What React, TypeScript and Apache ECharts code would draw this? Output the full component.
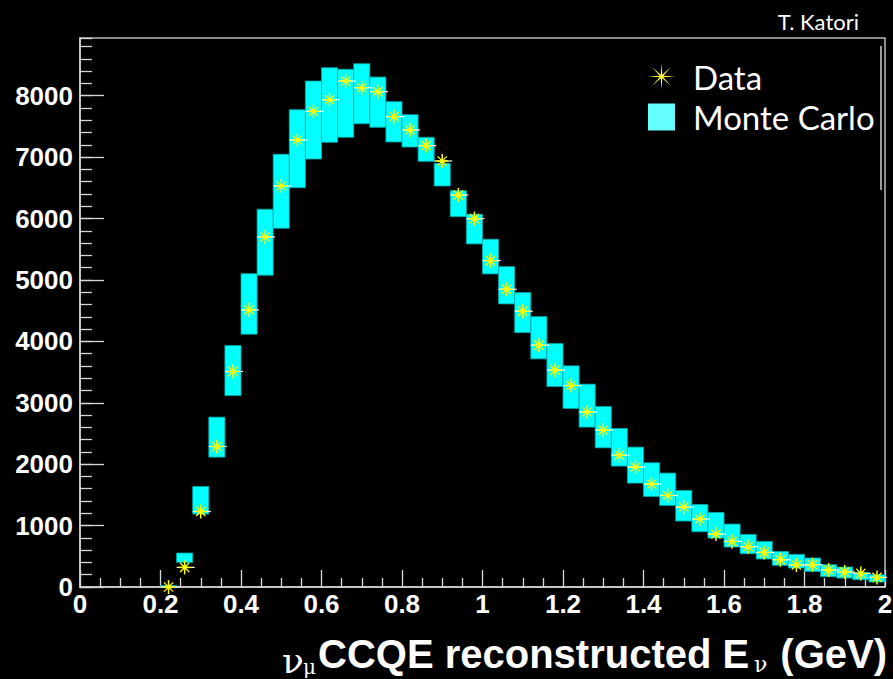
import React, { useEffect, useRef } from "react";
import * as echarts from "echarts";

// Bin centres (GeV), bin width 0.04 GeV
const binCenters = [
  0.22, 0.26, 0.3, 0.34, 0.38, 0.42, 0.46, 0.5, 0.54, 0.58, 0.62, 0.66, 0.7, 0.74, 0.78,
  0.82, 0.86, 0.9, 0.94, 0.98, 1.02, 1.06, 1.1, 1.14, 1.18, 1.22, 1.26, 1.3, 1.34, 1.38,
  1.42, 1.46, 1.5, 1.54, 1.58, 1.62, 1.66, 1.7, 1.74, 1.78, 1.82, 1.86, 1.9, 1.94, 1.98,
];
const binWidth = 0.04;

// Data (stars)
const dataCounts = [
  0, 319, 1230, 2288, 3509, 4513, 5700, 6530, 7279, 7746, 7935, 8239, 8130, 8066, 7659,
  7442, 7187, 6937, 6384, 5998, 5315, 4849, 4491, 3938, 3531, 3281, 2850, 2555, 2148, 1953,
  1676, 1491, 1302, 1107, 862, 742, 656, 563, 444, 358, 363, 277, 244, 221, 156,
];

// Monte Carlo band: lower and upper edges
const mcLow = [
  0, 400, 1188, 2115, 3118, 4117, 5077, 5842, 6503, 6970, 7241, 7323, 7544, 7486, 7247,
  7165, 6932, 6530, 6031, 5587, 5098, 4610, 4143, 3715, 3264, 2907, 2604, 2267, 1969, 1692,
  1474, 1328, 1074, 900, 797, 651, 542, 456, 352, 309, 254, 168, 146, 119, 81,
];
const mcHigh = [
  25, 553, 1637, 2766, 3932, 5103, 6151, 7046, 7772, 8239, 8456, 8430, 8521, 8304, 7903,
  7691, 7323, 6900, 6454, 6070, 5663, 5217, 4794, 4403, 3964, 3601, 3303, 2939, 2581, 2278,
  2023, 1855, 1572, 1344, 1214, 1025, 856, 742, 579, 531, 472, 363, 325, 238, 200,
];

const xMin = 0;
const xMax = 2;
const xInterval = 0.2;
const yMin = 0;
const yMax = 8940;
const yInterval = 1000;
const yMinorInterval = 200;

const seriesNames = ["Data", "Monte Carlo"];
const author = "T. Katori";

const AXIS_COLOR = "#d8d8d8";
const LABEL_FONT = "Liberation Sans";

function starIconPath(): string {
  const pts: string[] = [];
  for (let k = 0; k < 16; k++) {
    const a = (k * Math.PI) / 8 - Math.PI / 2;
    const r = k % 2 === 0 ? 15 : 2.2;
    const x = 15 + r * Math.cos(a);
    const y = 15 + r * Math.sin(a);
    pts.push((k === 0 ? "M" : "L") + x.toFixed(2) + " " + y.toFixed(2));
  }
  return "path://" + pts.join(" ") + " Z";
}

export default function App() {
  const ref = useRef<HTMLDivElement>(null);

  useEffect(() => {
    document.body.style.margin = "0";
    document.body.style.background = "#000";
    if (!ref.current) return;
    const chart = echarts.init(ref.current, undefined, { renderer: "svg" });

    const mcData = binCenters.map((c, i) => [c, mcLow[i], mcHigh[i]]);
    const dData = binCenters.map((c, i) => [c, dataCounts[i]]);

    const option: any = {
      animation: false,
      backgroundColor: "#000000",
      grid: {
        left: 80,
        top: 38,
        width: 805,
        height: 549,
        show: true,
        borderColor: "#b8b8b8",
        borderWidth: 1.5,
        backgroundColor: "transparent",
        outerBoundsMode: "none",
      },
      legend: {
        orient: "vertical",
        left: 643,
        top: 55,
        itemWidth: 27,
        itemHeight: 27,
        itemGap: 7.5,
        selectedMode: false,
        textStyle: {
          color: "#ffffff",
          fontFamily: "Lato",
          fontSize: 33,
          padding: [0, 0, 0, 13],
        },
        data: [
          { name: seriesNames[0], icon: starIconPath(), itemStyle: { color: "#ffff40" } },
          { name: seriesNames[1], icon: "rect", itemStyle: { color: "#66ffff" } },
        ],
      },
      xAxis: [
        {
          type: "value",
          min: xMin,
          max: xMax,
          interval: xInterval,
          position: "bottom",
          axisLine: { show: true, onZero: false, lineStyle: { color: AXIS_COLOR, width: 1.5 } },
          axisTick: { show: true, inside: true, length: 17, lineStyle: { color: AXIS_COLOR, width: 1.3 } },
          minorTick: { show: true, splitNumber: 4, length: 9, lineStyle: { color: AXIS_COLOR, width: 1.3 } },
          splitLine: { show: false },
          minorSplitLine: { show: false },
          axisLabel: {
            color: "#ffffff",
            fontFamily: LABEL_FONT,
            fontWeight: "bold",
            fontSize: 26,
            margin: 4,
            formatter: (v: number) => String(Math.round(v * 10) / 10),
          },
        },
      ],
      yAxis: [
        {
          type: "value",
          min: yMin,
          max: yMax,
          interval: yInterval,
          position: "left",
          axisLine: { show: true, onZero: false, lineStyle: { color: AXIS_COLOR, width: 1.5 } },
          axisTick: { show: true, inside: true, length: 24, lineStyle: { color: AXIS_COLOR, width: 1.3 } },
          splitLine: { show: false },
          axisLabel: {
            color: "#ffffff",
            fontFamily: LABEL_FONT,
            fontWeight: "bold",
            fontSize: 26,
            margin: 7,
            showMaxLabel: false,
            formatter: (v: number) => String(v),
          },
        },
        {
          type: "value",
          min: yMin,
          max: yMax,
          interval: yMinorInterval,
          position: "left",
          offset: 0,
          axisLine: { show: false },
          axisTick: { show: true, inside: true, length: 12, lineStyle: { color: AXIS_COLOR, width: 1.3 } },
          axisLabel: { show: false },
          splitLine: { show: false },
        },
      ],
      series: [
        {
          type: "custom",
          name: seriesNames[1],
          data: mcData,
          encode: { x: 0, y: [1, 2] },
          itemStyle: { color: "#66ffff" },
          z: 2,
          renderItem: (_params: any, api: any) => {
            const c = api.value(0);
            const lo = api.value(1);
            const hi = api.value(2);
            const p0 = api.coord([c - binWidth / 2, hi]);
            const p1 = api.coord([c + binWidth / 2, lo]);
            return {
              type: "rect",
              shape: {
                x: p0[0],
                y: p0[1],
                width: p1[0] - p0[0],
                height: Math.max(p1[1] - p0[1], 1.5),
              },
              style: { fill: "#00ffff", stroke: "#00a8a8", lineWidth: 0.8 },
            };
          },
        },
        {
          type: "custom",
          name: seriesNames[0],
          data: dData,
          encode: { x: 0, y: 1 },
          itemStyle: { color: "#ffff40" },
          z: 3,
          clip: false,
          renderItem: (_params: any, api: any) => {
            const c = api.value(0);
            const v = api.value(1);
            const p = api.coord([c, v]);
            const pl = api.coord([c - binWidth / 2, v]);
            const pr = api.coord([c + binWidth / 2, v]);
            const r = 6;
            const d = 4.6;
            const yellow = "#ffff00";
            return {
              type: "group",
              children: [
                { type: "line", shape: { x1: pl[0], y1: p[1], x2: pr[0] + 2, y2: p[1] }, style: { stroke: "#ffffff", lineWidth: 1.2 } },
                { type: "line", shape: { x1: p[0] - r, y1: p[1], x2: p[0] + r, y2: p[1] }, style: { stroke: yellow, lineWidth: 1.5 } },
                { type: "line", shape: { x1: p[0], y1: p[1] - r - 1, x2: p[0], y2: p[1] + r + 1 }, style: { stroke: yellow, lineWidth: 1.5 } },
                { type: "line", shape: { x1: p[0] - d, y1: p[1] - d, x2: p[0] + d, y2: p[1] + d }, style: { stroke: yellow, lineWidth: 1.3 } },
                { type: "line", shape: { x1: p[0] - d, y1: p[1] + d, x2: p[0] + d, y2: p[1] - d }, style: { stroke: yellow, lineWidth: 1.3 } },
                { type: "circle", shape: { cx: p[0], cy: p[1], r: 2.2 }, style: { fill: yellow } },
              ],
            };
          },
        },
      ],
      graphic: [
        {
          type: "text",
          style: { text: author, x: 859, y: 21, align: "right", verticalAlign: "middle", font: "22px Lato", fill: "#ffffff" },
        },
        {
          type: "line",
          shape: { x1: 881, y1: 46, x2: 881, y2: 190 },
          style: { stroke: "#ffffff", lineWidth: 1.2 },
        },
        {
          type: "text",
          style: { text: "ν", x: 282, y: 660, align: "left", verticalAlign: "middle", font: "36px 'DejaVu Serif'", fill: "#ffffff" },
        },
        {
          type: "text",
          style: { text: "μ", x: 303, y: 667, align: "left", verticalAlign: "middle", font: "20px 'DejaVu Serif'", fill: "#ffffff" },
        },
        {
          type: "text",
          style: { text: "CCQE reconstructed E", x: 318, y: 654, align: "left", verticalAlign: "middle", font: "bold 40px 'Liberation Sans'", fill: "#ffffff" },
        },
        {
          type: "text",
          style: { text: "ν", x: 754, y: 664, align: "left", verticalAlign: "middle", font: "22px 'DejaVu Serif'", fill: "#ffffff" },
        },
        {
          type: "text",
          style: { text: "(GeV)", x: 887, y: 654, align: "right", verticalAlign: "middle", font: "bold 40px 'Liberation Sans'", fill: "#ffffff" },
        },
      ],
    };

    chart.setOption(option);
    return () => {
      chart.dispose();
    };
  }, []);

  return (
    <div
      ref={ref}
      style={{ position: "fixed", left: 0, top: 0, width: 893, height: 679, background: "#000" }}
    />
  );
}
